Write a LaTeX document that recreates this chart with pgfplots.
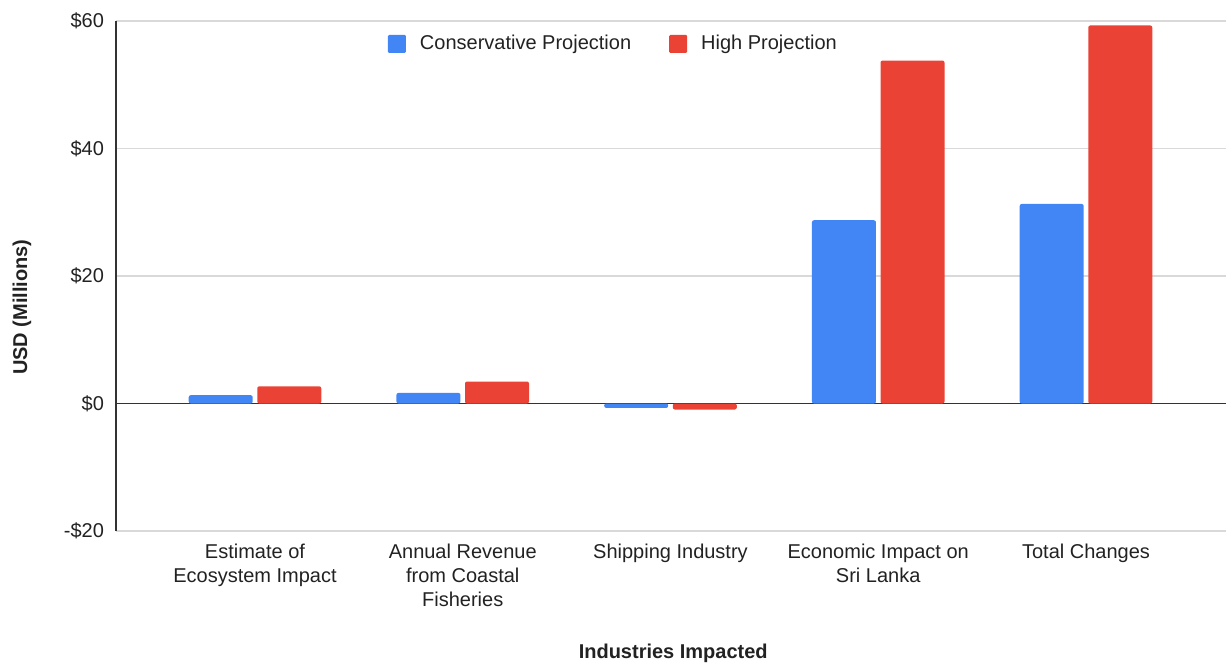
\documentclass[border=0pt]{standalone}
\usepackage{fontspec}
\setmainfont{Liberation Sans}
\usepackage{pgfplots}
\pgfplotsset{compat=1.18}

\definecolor{consblue}{HTML}{4285F4}
\definecolor{highred}{HTML}{EA4335}
\definecolor{gridgrey}{HTML}{D9D9D9}
\definecolor{axisdark}{HTML}{333333}
\definecolor{txt}{HTML}{222222}

\begin{document}
\begin{tikzpicture}
\begin{axis}[
  scale only axis,
  width=555pt, height=255pt,
  xmin=-0.669, xmax=4.674,
  ymin=-20, ymax=60,
  axis x line*=bottom,
  axis y line*=left,
  x axis line style={gridgrey, line width=0.8pt, -},
  y axis line style={axisdark, line width=0.9pt, -},
  ytick={-20,0,20,40,60},
  yticklabels={-\$20,\$0,\$20,\$40,\$60},
  ymajorgrids,
  grid style={gridgrey, line width=0.8pt},
  extra y ticks={0},
  extra y tick labels={},
  extra y tick style={grid style={axisdark, line width=0.9pt}},
  major tick length=0pt,
  xtick={0,1,2,3,4},
  xticklabels={{Estimate of\\Ecosystem Impact},
               {Annual Revenue\\from Coastal\\Fisheries},
               {Shipping Industry},
               {Economic Impact on\\Sri Lanka},
               {Total Changes}},
  ticklabel style={font=\fontsize{10}{12}\selectfont, text=txt},
  xticklabel style={align=center, anchor=north, yshift=-3pt},
  yticklabel style={xshift=-2.5pt},
  ylabel={\textbf{USD (Millions)}},
  ylabel style={at={(axis description cs:-0.0847,0.439)}, anchor=center, rotate=0, font=\fontsize{10}{12}\selectfont, text=txt},
  xlabel={\textbf{Industries Impacted}},
  xlabel style={at={(axis description cs:0.502,-0.239)}, anchor=center, font=\fontsize{10}{12}\selectfont, text=txt},
  ybar,
  bar width=0.308,
  legend columns=2,
  legend style={at={(axis description cs:0.449,0.955)}, anchor=center, draw=none, fill=none,
    font=\fontsize{10}{12}\selectfont, text=txt,
    /tikz/every even column/.append style={column sep=17pt}},
  legend image code/.code={\fill[#1, draw=none, rounded corners=0.6pt] (0pt,-4.5pt) rectangle (9pt,4.5pt);},
  legend cell align=left,
]
\addplot[fill=consblue, draw=none, rounded corners=1pt, bar shift=-0.165]
  coordinates {(0,1.3) (1,1.66) (2,-0.69) (3,28.75) (4,31.3)};
\addlegendentry{\hspace{5pt}Conservative Projection}
\addplot[fill=highred, draw=none, rounded corners=1pt, bar shift=0.165]
  coordinates {(0,2.7) (1,3.45) (2,-0.94) (3,53.8) (4,59.3)};
\addlegendentry{\hspace{5pt}High Projection}
\end{axis}
% full canvas
\path (-58pt,-66.5pt) rectangle (557.5pt,265.5pt);
\end{tikzpicture}
\end{document}
